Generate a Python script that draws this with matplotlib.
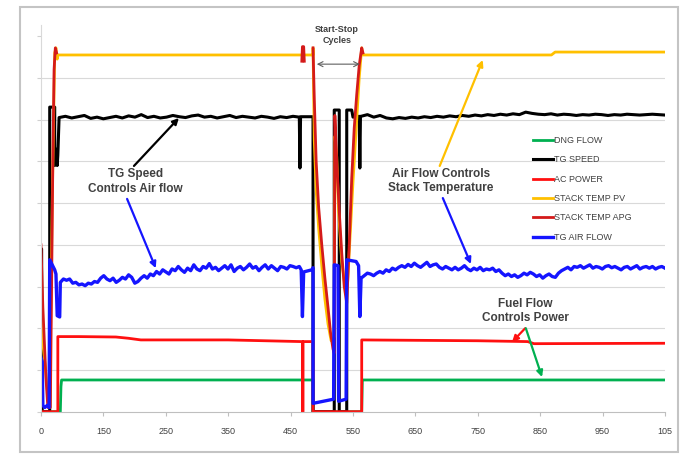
import numpy as np
import matplotlib
matplotlib.use("Agg")
import matplotlib.pyplot as plt
from matplotlib.patches import Rectangle

plt.rcParams['font.family'] = ['Liberation Sans', 'DejaVu Sans']

# x axis: sample position, tick labels as printed on the original
tick_pos = [0, 100, 200, 300, 400, 500, 600, 700, 800, 900, 1000]
tick_labels = ["0", "150", "250", "350", "450", "550", "650", "750", "850", "950", "105"]

# ---- DNG FLOW
dng_x = [0, 31, 32, 33, 436, 436, 514, 515, 1000]
dng_y = [0, 0, 0.6, 0.76, 0.76, 0, 0, 0.76, 0.76]

# ---- TG SPEED
speed_start_x = [0, 1, 2, 14, 14, 22, 22, 23, 24, 25, 26, 27, 28]
speed_start_y = [3.9, 3.9, 0, 0, 7.3, 7.3, 5.9, 6.3, 5.95, 6.25, 5.9, 6.15, 6.6]
speed_a = [7.05, 7.08, 7.04, 7.07, 7.10, 7.03, 7.06, 7.02, 7.05, 7.08,
           7.04, 7.09, 7.06, 7.12, 7.05, 7.08, 7.04, 7.06, 7.10, 7.07,
           7.05, 7.09, 7.11, 7.06, 7.08, 7.04, 7.07, 7.10, 7.05, 7.08,
           7.06, 7.04, 7.08, 7.06, 7.03, 7.07, 7.05, 7.08, 7.06]
speed_mid_x = [415, 416, 436, 436, 470, 470, 478, 478, 490, 490, 498, 500, 510, 511, 512]
speed_mid_y = [5.84, 7.07, 7.07, 0, 0, 7.23, 7.23, 0, 0, 7.23, 7.23, 7.06, 7.08, 5.84, 7.08]
speed_c = [7.08, 7.12, 7.06, 7.10, 7.04, 7.02, 7.05, 7.03, 7.06, 7.04,
           7.07, 7.05, 7.08, 7.06, 7.09, 7.07, 7.10, 7.08, 7.11, 7.09,
           7.12, 7.10, 7.13, 7.11, 7.14, 7.12, 7.18, 7.15, 7.13, 7.12,
           7.14, 7.11, 7.13, 7.12, 7.10, 7.12, 7.11, 7.13, 7.12, 7.10,
           7.12, 7.11, 7.13, 7.12, 7.11, 7.12, 7.13, 7.12, 7.11]

# ---- AC POWER
power_x = [0, 27, 27, 60, 120, 140, 160, 300, 418, 419, 419, 420, 420, 436, 436, 514, 514, 700, 780, 790, 1000]
power_y = [0, 0, 1.8, 1.8, 1.79, 1.76, 1.72, 1.72, 1.68, 1.68, 0, 0, 1.68, 1.68, 0, 0, 1.72, 1.70, 1.68, 1.63, 1.64]

# ---- STACK TEMP PV
pv_x = [0, 4, 8, 12, 14, 18, 22, 24, 26, 27, 436, 436, 438, 441, 445, 450, 455, 460, 465,
        470, 471, 474, 477, 482, 490, 500, 510, 514, 516, 818, 824, 1000]
pv_y = [2.5, 1.5, 0.9, 0.2, 0.2, 5.0, 8.6, 8.72, 8.45, 8.55, 8.55, 8.72, 6.5, 5.3, 4.4, 3.5, 2.7, 2.1, 1.7,
        1.8, 6.6, 6.1, 4.8, 3.6, 2.7, 5.5, 8.0, 8.72, 8.55, 8.55, 8.62, 8.62]

# ---- STACK TEMP APG (only visible during transients)
apg_x = [0, 3, 8, 11, 15, 17, 19, 21, 23, 25, np.nan,
         418, 419, 421, 422, np.nan,
         436, 438, 441, 445, 450, 455, 460, 464, 468, 470, 471, 474, 478, 482, 486,
         490, 494, 498, 502, 506, 510, 514, 516]
apg_y = [4.0, 2.5, 0.8, 0.1, 0.1, 3.0, 6.0, 8.2, 8.72, 8.6, np.nan,
         8.4, 8.75, 8.75, 8.4, np.nan,
         8.72, 7.5, 6.0, 4.9, 4.0, 3.2, 2.5, 1.9, 1.5, 1.4, 7.1, 6.0, 4.8, 3.8, 3.0,
         2.6, 4.0, 5.6, 6.8, 7.6, 8.3, 8.72, 8.6]

# ---- TG AIR FLOW
air_start_x = [0, 2, 3, 6, 10, 13, 14, 17, 22, 24, 26, 30]
air_start_y = [1.3, 1.2, 0.15, 0.1, 0.15, 0.1, 3.64, 3.55, 3.4, 3.3, 2.3, 2.27]
air_a = [3.10, 3.18, 3.15, 3.18, 3.08, 3.10, 3.04, 3.06, 3.02, 3.08,
         3.06, 3.12, 3.10, 3.20, 3.26, 3.18, 3.14, 3.20, 3.10, 3.15,
         3.22, 3.18, 3.28, 3.22, 3.08, 3.12, 3.20, 3.26, 3.20, 3.30,
         3.26, 3.36, 3.30, 3.40, 3.35, 3.30, 3.42, 3.38, 3.48, 3.40,
         3.34, 3.44, 3.38, 3.52, 3.42, 3.38, 3.48, 3.44, 3.55, 3.42,
         3.46, 3.38, 3.44, 3.50, 3.42, 3.52, 3.36, 3.44, 3.48, 3.40,
         3.46, 3.54, 3.44, 3.48, 3.38, 3.46, 3.52, 3.42, 3.50, 3.44,
         3.38, 3.48, 3.46, 3.42, 3.50, 3.48, 3.45, 3.48]
air_mid_x = [417, 419, 421, 434, 436, 436, 469, 470, 476, 477, 489, 490, 505, 509, 511]
air_mid_y = [3.4, 2.28, 3.35, 3.4, 3.45, 0.2, 0.3, 3.52, 3.5, 0.25, 0.3, 3.64, 3.6, 3.5, 2.28]
air_c = [3.20, 3.26, 3.32, 3.30, 3.26, 3.32,
         3.36, 3.32, 3.40, 3.36, 3.44, 3.40, 3.46,
         3.50, 3.46, 3.53, 3.48, 3.56, 3.50, 3.46, 3.52, 3.58, 3.48, 3.52, 3.54, 3.46,
         3.42, 3.48, 3.44, 3.40, 3.46, 3.40, 3.44, 3.50, 3.42, 3.38, 3.44, 3.40, 3.46,
         3.38, 3.42, 3.40, 3.44, 3.36, 3.40, 3.32, 3.26, 3.30, 3.24, 3.28, 3.22, 3.26, 3.32, 3.28, 3.34,
         3.30, 3.24, 3.28, 3.20, 3.26, 3.30, 3.24, 3.22, 3.32, 3.38,
         3.42, 3.46, 3.40, 3.48, 3.46, 3.50, 3.44, 3.48, 3.52, 3.44, 3.48, 3.46, 3.42, 3.48, 3.50,
         3.45, 3.48, 3.44, 3.40, 3.46, 3.48, 3.42, 3.46, 3.50, 3.42, 3.46, 3.48, 3.44, 3.48, 3.42,
         3.46, 3.48, 3.44]

speed_x = speed_start_x + list(np.linspace(29, 414, len(speed_a))) + speed_mid_x + list(np.linspace(513, 1000, len(speed_c)))
speed_y = speed_start_y + speed_a + speed_mid_y + speed_c
air_x = air_start_x + list(np.linspace(31, 414, len(air_a))) + air_mid_x + list(np.linspace(513, 1000, len(air_c)))
air_y = air_start_y + air_a + air_mid_y + air_c

fig = plt.figure(figsize=(6.83, 4.55), dpi=100)
ax = fig.add_axes([0.060, 0.0952, 0.9136, 0.850])

fig.patches.append(Rectangle((20 / 683, 3 / 455), 658 / 683, 445 / 455, transform=fig.transFigure,
                             fill=False, edgecolor='#c4c4c4', linewidth=1.5))

ax.plot(dng_x, dng_y, color='#00b050', lw=2.0, label='DNG FLOW')
ax.plot(speed_x, speed_y, color='black', lw=2.2, label='TG SPEED')
ax.plot(power_x, power_y, color='#ff1010', lw=2.0, label='AC POWER')
ax.plot(pv_x, pv_y, color='#ffc000', lw=2.0, label='STACK TEMP PV')
ax.plot(apg_x, apg_y, color='#d41a1a', lw=2.0, label='STACK TEMP APG')
ax.plot(air_x, air_y, color='#1515ff', lw=2.4, label='TG AIR FLOW')

ax.set_xlim(0, 1000)
ax.set_ylim(0, 9.27)
ax.set_xticks(tick_pos)
ax.set_xticklabels(tick_labels, fontsize=6.5, color='#404040')
ax.set_yticks(range(10))
ax.set_yticklabels([])
ax.tick_params(axis='x', length=3, color='#bfbfbf', pad=8)
ax.tick_params(axis='y', length=3, color='#d0d0d0')
for y in range(1, 9):
    ax.axhline(y, color='#d9d9d9', lw=0.8, zorder=0)
for s in ['top', 'right']:
    ax.spines[s].set_visible(False)
ax.spines['left'].set_color('#d9d9d9')
ax.spines['bottom'].set_color('#bfbfbf')

leg = ax.legend(loc='upper left', bbox_to_anchor=(0.788, 0.713), frameon=False, fontsize=6.5,
                handlelength=2.2, handletextpad=0.15, labelspacing=1.15, borderpad=0, borderaxespad=0)
for t in leg.get_texts():
    t.set_color('#404040')

txt = dict(ha='center', va='center', fontweight='bold', color='#404040', linespacing=1.3)
ax.text(474, 9.03, "Start-Stop\nCycles", fontsize=6.5, **txt)
ax.text(151, 5.51, "TG Speed\nControls Air flow", fontsize=8.5, **txt)
ax.text(641, 5.53, "Air Flow Controls\nStack Temperature", fontsize=8.5, **txt)
ax.text(776, 2.41, "Fuel Flow\nControls Power", fontsize=8.5, **txt)

def arrow(x0, y0, x1, y1, color, style='-|>', lw=1.6):
    ax.annotate('', xy=(x1, y1), xytext=(x0, y0),
                arrowprops=dict(arrowstyle=style, color=color, lw=lw, mutation_scale=9,
                                shrinkA=0, shrinkB=0))

arrow(442, 8.33, 511, 8.33, '#606060', style='<->', lw=0.8)
arrow(149, 5.89, 221, 7.04, 'black')
arrow(138, 5.10, 184, 3.44, '#1515ff')
arrow(639, 5.89, 708, 8.43, '#ffc000')
arrow(644, 5.12, 689, 3.54, '#1515ff')
arrow(776, 2.0, 755, 1.67, '#ff1010')
arrow(777, 2.0, 803, 0.83, '#00b050')

plt.savefig("out.png", dpi=100)
plt.close()
